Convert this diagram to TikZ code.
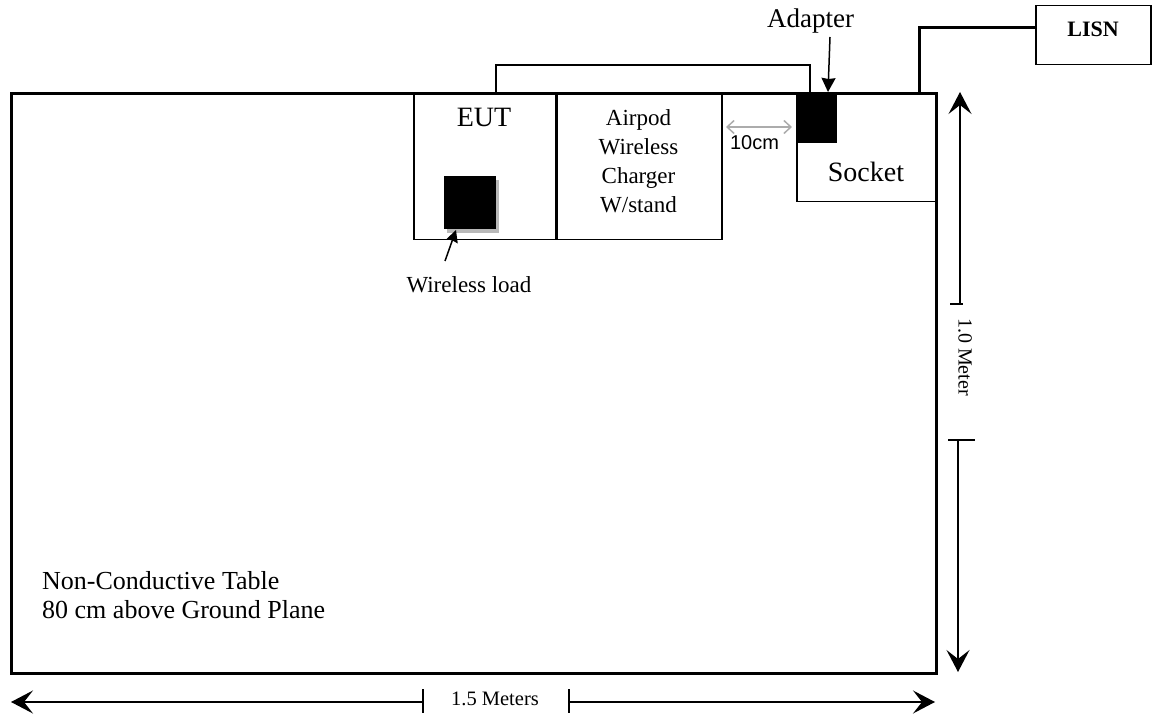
\documentclass[tikz,border=0pt]{standalone}
\usepackage{fontspec}
\setmainfont{Liberation Serif}
\newfontfamily\arialf{Liberation Sans}
\usetikzlibrary{arrows.meta}
\begin{document}
\begin{tikzpicture}[x=1pt,y=-1pt,
  box/.style={draw, line width=1.5pt, inner sep=0pt, anchor=north west},
  blk/.style={fill=black, draw=none, inner sep=0pt, anchor=north west},
  txt/.style={inner sep=0pt, anchor=base},
  dimline/.style={line width=1.3pt},
  dimarrow/.style={line width=1.3pt, -{Stealth[length=22pt,width=23pt,inset=9pt]}},
  wire/.style={line width=1.8pt, line join=miter},
  thickwire/.style={line width=3pt, line join=miter},
  pointer/.style={line width=1.5pt, -{Stealth[length=14pt,width=14pt,inset=1pt]}}
]
\path[use as bounding box] (0,0) rectangle (1156,719);

% table
\node[box, line width=3pt, minimum width=925pt, minimum height=580pt] (table) at (10,92) {};

% EUT and charger
\node[box, minimum width=142pt, minimum height=145pt] (eut) at (413,94) {};
\node[box, minimum width=165pt, minimum height=145pt] (charger) at (556,94) {};
\node[box, minimum width=139pt, minimum height=109pt] (socket) at (796,92) {};

% wireless load square with shadow
\node[blk, fill=gray!55, minimum width=52pt, minimum height=53pt] (loadshadow) at (447,180) {};
\node[blk, minimum width=52pt, minimum height=53pt] (load) at (444,176) {};

% adapter
\node[blk, minimum width=41pt, minimum height=50pt] (adapter) at (796,93) {};

% LISN
\node[box, minimum width=115pt, minimum height=59pt] (lisn) at (1035,5) {};
\node[txt, font=\fontsize{22}{22}\selectfont\bfseries] (lisnt) at (1093,37) {LISN};

% texts
\node[txt, font=\fontsize{28}{28}\selectfont] (eutt) at (484,127) {EUT};
\node[inner sep=0pt, anchor=north, align=center, font=\fontsize{23}{29}\selectfont] (chargert) at (638.5,109) {Airpod\\Wireless\\Charger\\W/stand};
\node[txt, font=\fontsize{28}{28}\selectfont] (sockett) at (866,182) {Socket};
\node[txt, font=\fontsize{27}{27}\selectfont] (adaptert) at (810.5,28) {Adapter};
\node[txt, font=\fontsize{20}{20}\selectfont\arialf] (tencm) at (754.5,150) {10cm};
\node[txt, font=\fontsize{23}{23}\selectfont] (loadt) at (469,292) {Wireless load};
\node[inner sep=0pt, anchor=north west, align=left, font=\fontsize{26}{29}\selectfont] (tablet) at (42,571) {Non-Conductive Table\\80 cm above Ground Plane};
\node[txt, font=\fontsize{20.5}{20.5}\selectfont] (widtht) at (495,705) {1.5 Meters};
\node[inner sep=0pt, anchor=center, rotate=-90, font=\fontsize{20}{20}\selectfont] (deptht) at (965,357) {1.0 Meter};

% wires
\coordinate (w1) at (496,92);
\coordinate (w2) at (810,92);
\draw[wire] (w1) -- (496,65) -- (810,65) -- (w2);
\coordinate (l1) at (919,92);
\coordinate (l2) at (lisn.west |- 0,28);
\draw[thickwire] (l1) -- (919,28) -- (l2);

% pointers
\coordinate (adtail) at (830,37);
\coordinate (adtip) at (828,92);
\draw[pointer] (adtail) -- (adtip);
\coordinate (ldtail) at (445,261);
\coordinate (ldtip) at (456,230);
\draw[pointer, -{Stealth[length=12pt,width=12pt,inset=1pt]}] (ldtail) -- (ldtip);

% 10cm arrow
\coordinate (g1) at (726,127);
\coordinate (g2) at (792,127);
\draw[gray!65, line width=1.5pt, {Straight Barb[length=7pt,width=13pt]}-{Straight Barb[length=7pt,width=13pt]}] (g1) -- (g2);

% horizontal dimension
\coordinate (hl) at (423,702);
\coordinate (hr) at (569,702);
\coordinate (hltip) at (11,702);
\coordinate (hrtip) at (935,702);
\draw[dimarrow] (hl) -- (hltip);
\draw[dimarrow] (hr) -- (hrtip);
\draw[dimline] (423,689) -- (423,713);
\draw[dimline] (569,689) -- (569,713);

% vertical dimension
\coordinate (vu) at (960,304);
\coordinate (vutip) at (960,92);
\coordinate (vl) at (958,440);
\coordinate (vltip) at (958,672);
\draw[dimarrow] (vu) -- (vutip);
\draw[dimarrow] (vl) -- (vltip);
\draw[dimline] (950,304) -- (963,304);
\draw[dimline] (948,440) -- (975,440);
\end{tikzpicture}
\end{document}
